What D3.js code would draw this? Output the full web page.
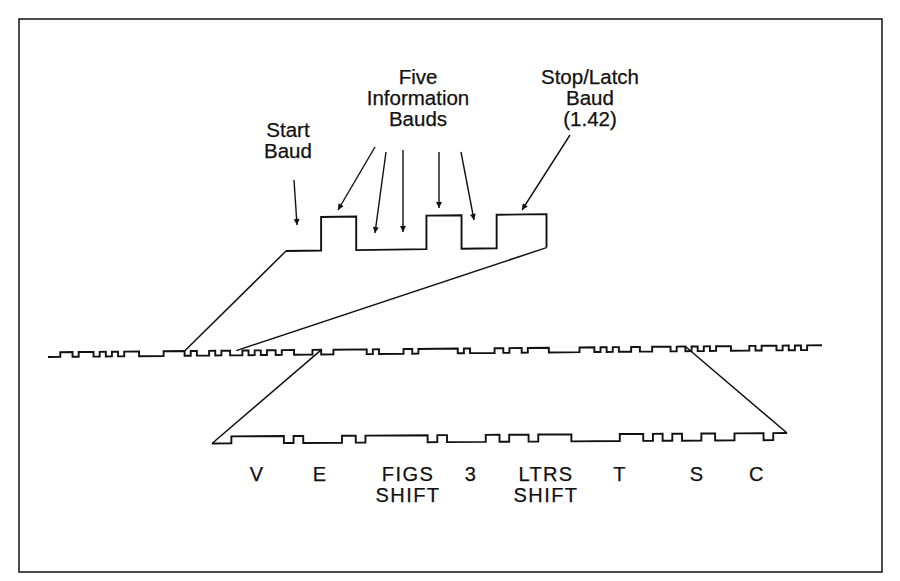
<!DOCTYPE html>
<html><head><meta charset="utf-8">
<script src="https://cdn.jsdelivr.net/npm/d3@7/dist/d3.min.js"></script>
<style>body{margin:0;background:#fff}svg{display:block}</style>
</head><body>
<svg id="c" width="900" height="581"></svg>
<script>
// ---------------- data ----------------
const stopLength = 1.42;                     // stop / latch baud length (in bauds)
const detailBits = ["1","0","0","1","0"];    // enlarged character (top)
const detailNotes = [["Start","Baud"],["Five","Information","Bauds"],["Stop/Latch","Baud","(1.42)"]];
const sampleCodes = ["01111","10000","11111","10000","11011","00001","10100","01110"];
const sampleLabels = [["V"],["E"],["FIGS","SHIFT"],["3"],["LTRS","SHIFT"],["T"],["S"],["C"]];
const streamCodes = ["01101","10101","00011","10010","01010","11000",
                     "01111","10000","11111","10000","11011","00001","10100","01110",
                     "10101","00101","10101"];

// ---------------- helpers ----------------
const charLen = 1 + 5 + stopLength;
function segments(codes){
  const segs = []; let t = 0;
  codes.forEach(code => {
    segs.push({t0:t, t1:t+1, v:0}); t += 1;
    code.split("").forEach(b => { segs.push({t0:t, t1:t+1, v:+b}); t += 1; });
    segs.push({t0:t, t1:t+stopLength, v:1}); t += stopLength;
  });
  return segs;
}
function stepPoints(segs){
  const pts = [];
  segs.forEach((s,i) => {
    if (i === 0 || segs[i-1].v !== s.v) pts.push([s.t0, s.v]);
  });
  const last = segs[segs.length-1];
  pts.push([last.t1, last.v]);
  return pts;
}
function makeWave(xs, ys, k, x0){
  return (t, v) => { const px = xs(t); return [px, ys(v) - k*(px - x0)]; };
}
function drawWave(g, f, pts, w){
  const full = [];
  pts.forEach((p,i) => {
    if (i > 0) full.push(f(p[0], pts[i-1][1]));
    full.push(f(p[0], p[1]));
  });
  g.append("path").attr("d", d3.line()(full))
    .attr("fill","none").attr("stroke","#111").attr("stroke-width",w)
    .attr("stroke-linejoin","miter");
}

const svg = d3.select("#c");
const font = "'Liberation Sans', Arial, Helvetica, sans-serif";

// frame
svg.append("rect").attr("x",19).attr("y",19).attr("width",863).attr("height",553)
  .attr("fill","none").attr("stroke","#111").attr("stroke-width",1.5);

// ---------------- long stream ----------------
const streamSegs = segments(streamCodes);
const xL = d3.scaleLinear().domain([0, streamCodes.length*charLen]).range([48, 822]);
const yL = d3.scaleLinear().domain([0,1]).range([357, 352.3]);
const fL = makeWave(xL, yL, 0.0091, 48);
drawWave(svg, fL, stepPoints(streamSegs), 1.9);

// ---------------- enlarged character (top) ----------------
const topSegs = segments([detailBits.join("")]);
const xT = d3.scaleLinear().domain([0, charLen]).range([286, 546.5]);
const yT = d3.scaleLinear().domain([0,1]).range([251, 217.5]);
const fT = makeWave(xT, yT, 0.013, 286);
const topPts = stepPoints(topSegs);
topPts.push([charLen, 0]);
drawWave(svg, fT, topPts, 1.9);

// ---------------- sample message (bottom) ----------------
const botSegs = segments(sampleCodes);
const xB = d3.scaleLinear().domain([0, sampleCodes.length*charLen]).range([212, 787]);
const yB = d3.scaleLinear().domain([0,1]).range([443.5, 436.5]);
const fB = makeWave(xB, yB, 0.006, 212);
drawWave(svg, fB, stepPoints(botSegs), 1.9);

// ---------------- connectors ----------------
const detailIndex = streamCodes.indexOf(detailBits.join(""));
const sampleStart = 6;
const conn = [
  [fT(0,0), fL(detailIndex*charLen, 1)],
  [fT(charLen,0), fL((detailIndex+1)*charLen + 1, 1)],
  [fB(0,0), fL(sampleStart*charLen, 1)],
  [fB(sampleCodes.length*charLen,1), fL((sampleStart+sampleCodes.length)*charLen, 1)]
];
conn.forEach(c => svg.append("line")
  .attr("x1",c[0][0]).attr("y1",c[0][1]).attr("x2",c[1][0]).attr("y2",c[1][1])
  .attr("stroke","#111").attr("stroke-width",1.5));

// ---------------- labels under sample ----------------
const labelX = [257, 320, 408, 471, 546, 620, 697, 757];
sampleLabels.forEach((lines, i) => {
  lines.forEach((s, j) => svg.append("text").attr("font-family", font).attr("font-size", 20)
    .attr("letter-spacing", 1.4).attr("text-anchor","middle").attr("fill","#111")
    .attr("stroke","#111").attr("stroke-width",0.25)
    .attr("x", labelX[i]).attr("y", 481 + j*21).text(s));
});

// ---------------- top notes + arrows ----------------
const noteX = [288, 418, 590];
const noteY = [137, 84, 84];
detailNotes.forEach((lines, i) => {
  const t = svg.append("text").attr("font-family", font).attr("font-size", 20.5)
    .attr("text-anchor","middle").attr("fill","#111")
    .attr("stroke","#111").attr("stroke-width",0.25);
  lines.forEach((s, j) => t.append("tspan").attr("x", noteX[i]).attr("y", noteY[i] + j*21).text(s));
});

svg.append("defs").append("marker").attr("id","ah")
  .attr("viewBox","0 0 10 10").attr("refX",10).attr("refY",5)
  .attr("markerWidth",11).attr("markerHeight",6).attr("markerUnits","userSpaceOnUse")
  .attr("orient","auto")
  .append("path").attr("d","M0,0 L10,5 L0,10 Z").attr("fill","#111");

const arrows = [
  [[294,180],[297,225]],
  [[375,147],[338,210]],
  [[386,152],[375,233]],
  [[403,150],[403,232]],
  [[439,152],[439,208]],
  [[461,152],[474,220]],
  [[570,135],[522,210]]
];
arrows.forEach(a => svg.append("line")
  .attr("x1",a[0][0]).attr("y1",a[0][1]).attr("x2",a[1][0]).attr("y2",a[1][1])
  .attr("stroke","#111").attr("stroke-width",1.4).attr("marker-end","url(#ah)"));
</script>
</body></html>
